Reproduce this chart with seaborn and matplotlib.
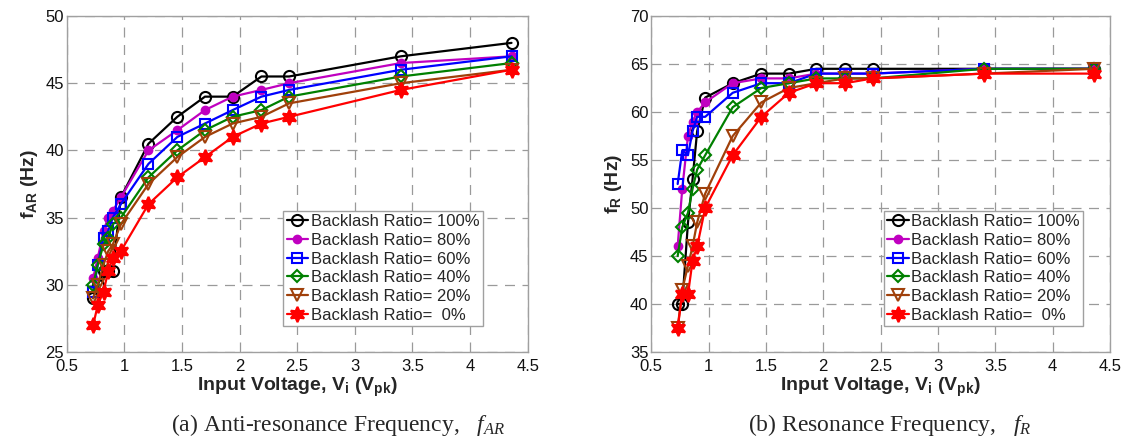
import numpy as np
import pandas as pd
import matplotlib
matplotlib.use("Agg")
import matplotlib.pyplot as plt
import seaborn as sns

# input voltage (Vpk), same for every curve
volts = [0.73, 0.77, 0.82, 0.86, 0.90, 0.97, 1.21, 1.46, 1.70, 1.94, 2.19, 2.43, 3.40, 4.36]

ratios = ["100%", "80%", "60%", "40%", "20%", " 0%"]

# anti-resonance frequency f_AR (Hz)
far_100 = [29, 30, 31, 31, 31, 36.5, 40.5, 42.5, 44, 44, 45.5, 45.5, 47, 48]
far_80 = [30.5, 32, 34, 35, 35.5, 36.5, 40, 41.5, 43, 44, 44.5, 45, 46.5, 47]
far_60 = [29.5, 31.5, 33.5, 34, 35, 36, 39, 41, 42, 43, 44, 44.5, 46, 47]
far_40 = [30, 31.5, 33, 33.5, 34.5, 35, 38, 40, 41.5, 42.5, 43, 44, 45.5, 46.5]
far_20 = [29, 30, 31.5, 32.5, 33, 34.5, 37.5, 39.5, 41, 42, 42.5, 43.5, 45, 46]
far_0 = [27, 28.5, 29.5, 31, 32, 32.5, 36, 38, 39.5, 41, 42, 42.5, 44.5, 46]

# resonance frequency f_R (Hz)
fr_100 = [40, 40, 48.5, 53, 58, 61.5, 63, 64, 64, 64.5, 64.5, 64.5, 64.5, 64.5]
fr_80 = [46, 52, 57.5, 59, 60, 61, 63, 63.5, 63.5, 64, 64, 64, 64.5, 64.5]
fr_60 = [52.5, 56, 55.5, 58, 59.5, 59.5, 62, 63, 63, 64, 64, 64, 64.5, 64.5]
fr_40 = [45, 48, 49.5, 52, 54, 55.5, 60.5, 62.5, 63, 63.5, 63.5, 63.5, 64.5, 64.5]
fr_20 = [37.5, 41.5, 44, 46, 48.5, 51.5, 57.5, 61, 62.5, 63, 63.5, 63.5, 64, 64.5]
fr_0 = [37.5, 41, 41, 44.5, 46, 50, 55.5, 59.5, 62, 63, 63, 63.5, 64, 64]

far_all = [far_100, far_80, far_60, far_40, far_20, far_0]
fr_all = [fr_100, fr_80, fr_60, fr_40, fr_20, fr_0]

# line styles, MATLAB look
colors = ["black", "#C000C0", "blue", "green", "#A0400A", "red"]
markers = ["o", "o", "s", "D", "v", (6, 1, 0)]
msizes = [8, 5.5, 7, 6, 8, 11]
filled = [False, True, False, False, False, True]

sns.set_theme(style="white")
plt.rcParams['font.family'] = ['Liberation Sans', 'DejaVu Sans']
plt.rcParams['mathtext.fontset'] = 'custom'
plt.rcParams['mathtext.rm'] = 'Liberation Sans'
plt.rcParams['mathtext.bf'] = 'Liberation Sans:bold'
plt.rcParams['mathtext.it'] = 'Liberation Serif:italic'
plt.rcParams['mathtext.default'] = 'bf'

fig = plt.figure(figsize=(11.26, 4.47), dpi=100)
ax1 = fig.add_axes([0.0592, 0.2125, 0.4094, 0.7517])
ax2 = fig.add_axes([0.5784, 0.2125, 0.4074, 0.7517])


def draw(ax, series):
    for i, vals in enumerate(series):
        df = pd.DataFrame({"V": volts, "f": vals})
        sns.lineplot(data=df, x="V", y="f", ax=ax, sort=False, color=colors[i],
                     marker=markers[i], markersize=msizes[i], linewidth=1.6,
                     markerfacecolor=colors[i] if filled[i] else "none",
                     markeredgecolor=colors[i], markeredgewidth=1.5,
                     label="Backlash Ratio= " + ratios[i])


draw(ax1, far_all)
draw(ax2, fr_all)

for ax, ylim in [(ax1, (25, 50)), (ax2, (35, 70))]:
    ax.set_xlim(0.5, 4.5)
    ax.set_ylim(*ylim)
    ax.set_xticks(np.arange(0.5, 4.51, 0.5))
    ax.set_xticklabels(["0.5", "1", "1.5", "2", "2.5", "3", "3.5", "4", "4.5"])
    ax.set_yticks(np.arange(ylim[0], ylim[1] + 0.1, 5))
    ax.grid(True, linestyle=(0, (8, 6)), color="#9a9a9a", linewidth=0.9)
    ax.tick_params(direction="in", length=4, color="#808080", labelsize=12,
                   labelcolor="#111111", pad=2)
    ax.tick_params(axis="x", pad=5)
    for s in ax.spines.values():
        s.set_color("#a0a0a0")
        s.set_linewidth(1.0)
    ax.set_xlabel(r"Input Voltage, V$_\mathbf{i}$ (V$_\mathbf{pk}$)",
                  fontsize=14, fontweight="bold", labelpad=1)
    leg = ax.legend(loc="upper left", bbox_to_anchor=(0.47 if ax is ax1 else 0.507, 0.42),
                    borderaxespad=0, fontsize=12, handlelength=1.3, handletextpad=0.15,
                    labelspacing=0.22, borderpad=0.2, fancybox=False, framealpha=1)
    leg.get_frame().set_edgecolor("#a0a0a0")
    leg.get_frame().set_linewidth(1.0)

ax1.set_ylabel(r"f$_\mathbf{AR}$ (Hz)", fontsize=14, fontweight="bold", labelpad=4)
ax2.set_ylabel(r"f$_\mathbf{R}$ (Hz)", fontsize=14, fontweight="bold", labelpad=4)

fig.text(0.30, 0.05, r"(a) Anti-resonance Frequency,   $\mathit{f_{AR}}$",
         family="Liberation Serif", fontsize=17, ha="center", va="center")
fig.text(0.79, 0.05, r"(b) Resonance Frequency,   $\mathit{f_{R}}$",
         family="Liberation Serif", fontsize=17, ha="center", va="center")

fig.savefig("out.png", dpi=100)
